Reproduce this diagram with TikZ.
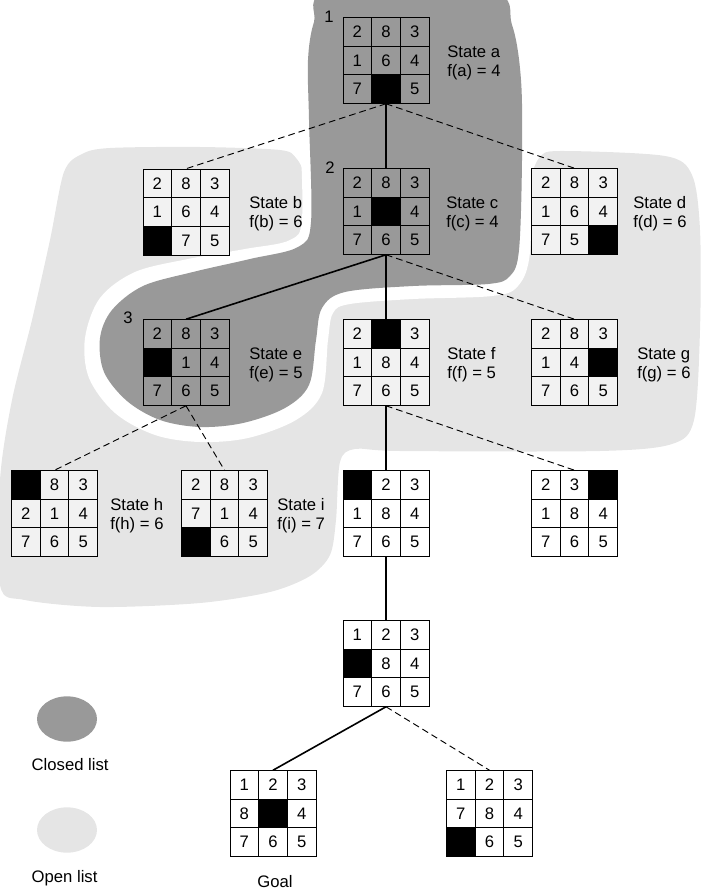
\documentclass[tikz,border=0pt]{standalone}
\usepackage{fontspec}
\setmainfont{Liberation Sans}
\usetikzlibrary{shapes.geometric}
\definecolor{closedgray}{gray}{0.6}
\definecolor{opengray}{gray}{0.9}
\definecolor{opencell}{gray}{0.95}
\tikzset{
  txt/.style={font=\fontsize{12.5}{14}\selectfont},
  cell/.style={txt, draw=black, line width=0.6pt, minimum size=21.5pt, inner sep=0pt},
  gridbox/.style={minimum size=64.5pt, inner sep=0pt},
  solidedge/.style={line width=1.2pt},
  dashededge/.style={line width=0.7pt, dash pattern=on 5pt off 3pt},
  statelabel/.style={txt, anchor=west, align=left, inner sep=0pt},
  keyblob/.style={ellipse, minimum width=45pt, minimum height=34pt, inner sep=0pt},
}
\newcommand{\puzzle}[5]{%
  \node[gridbox] (#1) at (#2,#3) {};
  \foreach \v [count=\k from 0] in {#5} {%
    \pgfmathtruncatemacro{\cc}{mod(\k,3)}%
    \pgfmathtruncatemacro{\rr}{div(\k,3)}%
    \ifnum\v=0
      \node[cell, fill=black] (#1-\k) at ({#2+(\cc-1)*28.67},{#3+(\rr-1)*28.67}) {};
    \else
      \node[cell, fill=#4] (#1-\k) at ({#2+(\cc-1)*28.67},{#3+(\rr-1)*28.67}) {\v};
    \fi
  }%
}
\begin{document}
\begin{tikzpicture}[x=0.75pt, y=-0.75pt]
\useasboundingbox (0,0) rectangle (708,891);
\begin{scope}
\clip (0,0) rectangle (708,891);
% open list region
\fill[opengray] plot[smooth cycle, tension=0.5] coordinates {
 (64,172) (82,154) (110,148) (200,147) (280,150) (296,158) (304,175)
 (307,212) (330,236) (420,238) (512,218) (529,180) (540,157) (560,151)
 (665,156) (692,175)
 (700,230) (700,330) (694,420) (672,444) (600,451) (400,451) (355,449)
 (340,462) (336,520) (330,555) (310,576) (270,592) (200,603) (100,607)
 (25,600) (0,585) (0,480) (12,400) (32,320) (50,240)};
% white halo around closed list
\fill[white] plot[smooth cycle, tension=0.55] coordinates {
 (300,120) (302,218) (290,240) (245,249) (188,259) (135,272) (100,298)
 (85,338) (89,378) (115,413) (155,435) (200,442) (248,438) (296,420)
 (322,393) (328,340) (333,313) (350,304) (413,299) (492,296) (518,286)
 (530,252) (531,160) (530,70) (520,10) (500,-20) (320,-20) (302,20) (299,60)};
% closed list region
\fill[closedgray] plot[smooth cycle, tension=0.55] coordinates {
 (309,120) (311,222) (298,247) (250,259) (193,272) (143,286) (112,310)
 (100,338) (104,372) (127,401) (160,420) (200,427) (243,423) (285,408)
 (309,385) (316,340) (322,308) (345,292) (413,286) (488,284) (510,276)
 (519,250) (522,160) (521,80) (512,25) (490,-8) (330,-8) (314,22) (308,60)};
\end{scope}

% puzzles
\puzzle{a}{386}{60.5}{none}{2,8,3,1,6,4,7,0,5}
\puzzle{b}{186}{212}{opencell}{2,8,3,1,6,4,0,7,5}
\puzzle{c}{386}{211.5}{none}{2,8,3,1,0,4,7,6,5}
\puzzle{d}{574.5}{211.5}{opencell}{2,8,3,1,6,4,7,5,0}
\puzzle{e}{186}{362.5}{none}{2,8,3,0,1,4,7,6,5}
\puzzle{f}{386}{362.5}{opencell}{2,0,3,1,8,4,7,6,5}
\puzzle{g}{574.5}{362.5}{opencell}{2,8,3,1,4,0,7,6,5}
\puzzle{h}{54.5}{513.5}{opencell}{0,8,3,2,1,4,7,6,5}
\puzzle{i}{224.5}{513.5}{opencell}{2,8,3,7,1,4,0,6,5}
\puzzle{j}{386}{513.5}{white}{0,2,3,1,8,4,7,6,5}
\puzzle{k}{574.5}{513.5}{white}{2,3,0,1,8,4,7,6,5}
\puzzle{l}{386}{663.5}{white}{1,2,3,0,8,4,7,6,5}
\puzzle{goal}{273}{813.5}{white}{1,2,3,8,0,4,7,6,5}
\puzzle{m}{489.5}{813.5}{white}{1,2,3,7,8,4,0,6,5}

% connectors
\draw[solidedge] (a.south) -- (c.north);
\draw[dashededge] (a.south) -- (b.north);
\draw[dashededge] (a.south) -- (d.north);
\draw[solidedge] (c.south) -- (e.north);
\draw[solidedge] (c.south) -- (f.north);
\draw[dashededge] (c.south) -- (g.north);
\draw[dashededge] (e.south) -- (h.north);
\draw[dashededge] (e.south) -- (i.north);
\draw[solidedge] (f.south) -- (j.north);
\draw[dashededge] (f.south) -- (k.north);
\draw[solidedge] (j.south) -- (l.north);
\draw[solidedge] (l.south) -- (goal.north);
\draw[dashededge] (l.south) -- (m.north);

% state labels
\node[statelabel] (la) at (447,63) {State a\\f(a) = 4};
\node[statelabel] (lb) at (249,214) {State b\\f(b) = 6};
\node[statelabel] (lc) at (446,214) {State c\\f(c) = 4};
\node[statelabel] (ld) at (633,214) {State d\\f(d) = 6};
\node[statelabel] (le) at (249,365) {State e\\f(e) = 5};
\node[statelabel] (lf) at (447,365) {State f\\f(f) = 5};
\node[statelabel] (lg) at (637,365) {State g\\f(g) = 6};
\node[statelabel] (lh) at (110,516) {State h\\f(h) = 6};
\node[statelabel] (li) at (277,516) {State i\\f(i) = 7};

% order numbers
\node[txt] (n1) at (329,17) {1};
\node[txt] (n2) at (330,168) {2};
\node[txt] (n3) at (128,318) {3};

% goal label
\node[txt] (goallabel) at (275,882) {Goal};

% legend
\node[keyblob, fill=closedgray] (closedkey) at (67,719) {};
\node[txt, anchor=west] (closedtxt) at (27,765) {Closed list};
\node[keyblob, fill=opengray] (openkey) at (67,830) {};
\node[txt, anchor=west] (opentxt) at (27,878) {Open list};
\end{tikzpicture}
\end{document}
